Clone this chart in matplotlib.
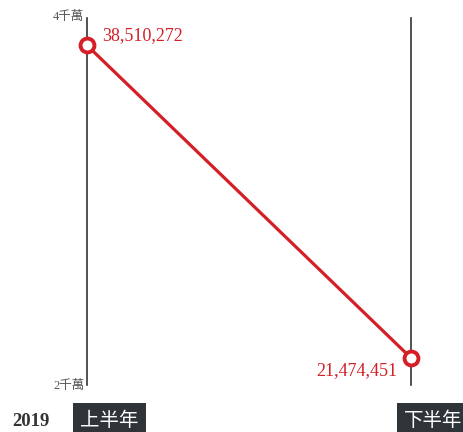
import matplotlib
matplotlib.use("Agg")
import matplotlib.pyplot as plt

periods = ["上半年", "下半年"]
values = [38510272, 21474451]
value_labels = ["38,510,272", "21,474,451"]
year = "2019"
y_ticks = [20000000, 40000000]
y_tick_labels = ["2千萬", "4千萬"]

RED = "#d41f27"
DARK = "#2f3439"
FONTS = ["Liberation Serif", "Noto Sans CJK TC"]
CJK = ["Noto Sans CJK TC", "DejaVu Sans"]

W, H = 463, 432
fig = plt.figure(figsize=(W / 100, H / 100), dpi=100)
ax = fig.add_axes([87 / W, (H - 385) / H, (411 - 87) / W, 367 / H])
ax.set_xlim(0, 1)
ax.set_ylim(y_ticks[0], y_ticks[1])
ax.axis("off")

xs = [0, 1]
for x in xs:
    ax.axvline(x, color="#333333", lw=1.2, clip_on=False, zorder=1)

ax.plot(xs, values, color=RED, lw=2.3, marker="o", markersize=10,
        markerfacecolor="white", markeredgecolor=RED, markeredgewidth=2.8,
        clip_on=False, zorder=3)

ax.annotate(value_labels[0], (xs[0], values[0]), xytext=(11, 7),
            textcoords="offset points", ha="left", va="center",
            color=RED, fontsize=13, family=FONTS)
ax.annotate(value_labels[1], (xs[1], values[1]), xytext=(-10, -9),
            textcoords="offset points", ha="right", va="center",
            color=RED, fontsize=13, family=FONTS)

for yv, lab, dy in zip(y_ticks, y_tick_labels, [-1, 1]):
    ax.annotate(lab, (0, yv), xytext=(-2, dy), textcoords="offset points",
                ha="right", va="center", color="#555555", fontsize=9,
                family=FONTS)

for x, lab in zip(xs, periods):
    ax.annotate(lab, (x, y_ticks[0]), xytext=(-5, -25.5),
                textcoords="offset points", ha="left", va="center",
                color="white", fontsize=14, family=CJK,
                bbox=dict(boxstyle="square,pad=0.38", fc=DARK, ec="none"),
                annotation_clip=False)

fig.text(12 / W, 1 - 421 / H, year, ha="left", va="center",
         fontsize=13.5, fontweight="bold", family=FONTS, color="#333333")

fig.savefig("out.png", dpi=100)
